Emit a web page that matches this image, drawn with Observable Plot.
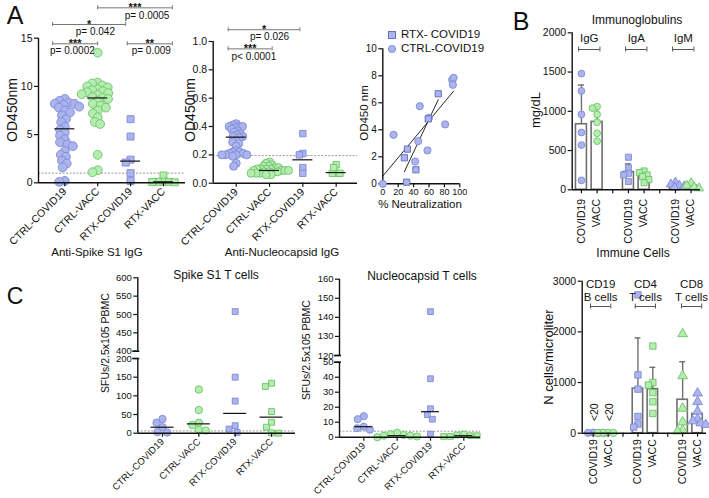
<!DOCTYPE html>
<html><head><meta charset="utf-8">
<script src="https://cdn.jsdelivr.net/npm/d3@7"></script>
<script src="https://cdn.jsdelivr.net/npm/@observablehq/plot@0.6"></script>
<style>
body{margin:0;background:#fff}
#root{position:relative;width:709px;height:498px;overflow:hidden;font-family:"Liberation Sans",Arial,sans-serif;color:#111;background:#fff}
.lbl{position:absolute;white-space:nowrap;line-height:1}
</style></head><body><div id="root"></div>
<script>
// ---------------- DATA ----------------
const groupsA = ["CTRL-COVID19","CTRL-VACC","RTX-COVID19","RTX-VACC"];

// A: Anti-Spike S1 IgG (OD450nm)
const spikeIgG_ctrlCovid = [8.7,8.5,8.3,8.2,8.2,8.1,7.9,7.8,7.5,7.3,7.0,6.6,6.3,5.8,5.5,5.2,4.9,4.5,4.2,4.0,3.8,3.3,2.9,2.7,2.3,2.0,1.6,0.2,0.1];
const spikeIgG_ctrlVacc = [13.5,10.4,10.3,10.1,10.0,9.9,9.7,9.6,9.5,9.4,9.3,9.2,9.1,8.9,8.8,8.7,8.5,8.2,8.0,7.8,7.5,7.2,6.8,6.3,6.1,2.9,1.3,1.1];
const spikeIgG_rtxCovid = [6.6,4.8,2.4,2.1,1.0,0.2];
const spikeIgG_rtxVacc = [0.75,0.12,0.1,0.1,0.08,0.05];
const spikeIgG_median = [5.6,8.8,2.25,0.1];
const spikeIgG_cutoff = 1.0;
const spikeSigStars = ["***","*","***","**"];
const spikeSigP = ["p= 0.0002","p= 0.042","p= 0.0005","p= 0.009"];
const spikeSigFrom = [-0.37,-0.37,1.0,1.9];
const spikeSigTo = [1.0,1.85,3.27,3.27];
const spikeSigLevel = [14.42,16.42,18.15,14.42];
const spikeSigPx = [0.23,0.93,2.5,2.63];

// A: Anti-Nucleocapsid IgG (OD450nm)
const ncIgG_ctrlCovid = [0.42,0.41,0.40,0.40,0.40,0.39,0.38,0.37,0.36,0.35,0.34,0.33,0.33,0.32,0.30,0.29,0.28,0.26,0.23,0.22,0.22,0.21,0.21,0.20,0.20,0.20,0.20,0.19,0.14,0.12];
const ncIgG_ctrlVacc = [0.15,0.14,0.13,0.12,0.12,0.11,0.11,0.10,0.10,0.10,0.10,0.09,0.09,0.09,0.09,0.08,0.08,0.08,0.08,0.07,0.07,0.07,0.06,0.06];
const ncIgG_rtxCovid = [0.35,0.21,0.20,0.11,0.07];
const ncIgG_rtxVacc = [0.13,0.07,0.07,0.07,0.11];
const ncIgG_median = [0.325,0.09,0.165,0.075];
const ncIgG_cutoff = 0.195;
const ncSigStars = ["*","***"];
const ncSigP = ["p= 0.026","p< 0.0001"];
const ncSigFrom = [-0.24,-0.24];
const ncSigTo = [1.91,1.08];
const ncSigLevel = [1.083,0.948];
const ncSigPx = [1.0,0.53];

// A: OD450 vs % neutralization
const neutCtrlX = [0,14,48,46,42,58,60,81,90,92,91];
const neutCtrlY = [0,3.63,5.75,3.16,1.65,2.47,4.89,4.4,7.7,7.85,7.33];
const neutRtxX = [31,32,28,43,59,72];
const neutRtxY = [0.12,2.57,1.93,1.04,4.81,6.67];
const neutLegend = ["RTX- COVID19","CTRL-COVID19"];

// B: Immunoglobulins (mg/dL)
const pairLabels = ["COVID19","VACC","COVID19","VACC","COVID19","VACC"];
const igGroups = ["IgG","IgA","IgM"];
const igG_covid = [1480,1260,960,730,570,120];
const igG_vacc = [1060,1040,960,860,720,620];
const igA_covid = [415,280,210,190,105];
const igA_vacc = [240,220,190,170,130,90];
const igM_covid = [95,70,55,45,30];
const igM_vacc = [85,55,35,20];
const igMean = [835,865,225,175,60,55];
const igSD = [500,185,105,70,25,25];

// Immune cells (N cells/microliter)
const cellGroups = ["CD19\nB cells","CD4\nT cells","CD8\nT cells"];
const cd19_covid = [12,8,5,3];
const cd19_vacc = [10,8,6,4];
const cd4_covid = [2730,1150,870,330,180,120];
const cd4_vacc = [1720,1000,950,800,620,390];
const cd8_covid = [1960,1130,490,220,60,40];
const cd8_vacc = [790,620,430,280,240,200,170];
const cellMean = [8,7,880,870,660,380];
const cellSD = [0,0,1000,430,750,230];
const cellNote = "<20";

// C: Spike S1 T cells (SFUs/2.5x105 PBMC)
const tSpike_ctrlCovid = [38,28,16,3,2];
const tSpike_ctrlVacc = [117,62,28,22,9,7];
const tSpike_rtxCovid = [508,150,86,20,11,2];
const tSpike_rtxVacc = [134,125,58,29,16,1,0];
const tSpike_median = [16,25,53,43];
const tSpike_cutoff = 6;

// C: Nucleocapsid T cells
const tNc_ctrlCovid = [14,12,7,6,5];
const tNc_ctrlVacc = [3,2,1.5,1,1,0.5,0];
const tNc_rtxCovid = [143,39,19,15,12,2];
const tNc_rtxVacc = [2,1.5,1,1,0.5,0.5];
const tNc_median = [7,1,17,1];
const tNc_cutoff = 4;

// ---------------- HELPERS ----------------
const root = document.getElementById("root");
const FONT = '"Liberation Sans", Arial, sans-serif';
const BLUE = {fill:"#abb4ec", stroke:"#7f8ad6"};
const GREEN = {fill:"#b5edb0", stroke:"#6cc468"};
const INK = "#111";
const intFmt = d => String(d);

function addPlot(p, left, top){ p.style.position="absolute"; p.style.left=left+"px"; p.style.top=top+"px"; root.appendChild(p); }
function label(text, x, y, o = {}){
  const d = document.createElement("div"); d.className = "lbl"; d.textContent = text;
  d.style.fontSize = (o.size || 11) + "px"; d.style.fontWeight = o.weight || "normal";
  d.style.left = x + "px"; d.style.top = y + "px";
  d.style.transform = `translate(-50%,-50%) rotate(${o.rotate || 0}deg)`;
  root.appendChild(d); return d;
}
function swarm(pys, diam){
  const order = pys.map((_, i) => i).sort((a, b) => pys[b] - pys[a]);
  const placed = [], xs = [];
  for (const i of order){
    const y = pys[i];
    const near = placed.filter(p => Math.abs(p.y - y) < diam);
    const cands = [0];
    for (const p of near){ const dx = Math.sqrt(diam*diam - (p.y - y)**2); cands.push(p.x + dx, p.x - dx); }
    cands.sort((a, b) => Math.abs(a) - Math.abs(b) || a - b);
    const x = cands.find(c => near.every(p => (p.x - c)**2 + (p.y - y)**2 >= diam*diam - 0.01));
    xs[i] = x; placed.push({x, y});
  }
  return xs;
}
const baseStyle = {fontFamily: FONT, fontSize: "10px", color: INK, background: "none", overflow: "visible"};

function dotPlot(c){
  const fw = c.width - c.ml - c.mr, fh = c.height - c.mt - c.mb;
  const pxX = fw / (c.xdom[1] - c.xdom[0]), pxY = fh / (c.ydom[1] - c.ydom[0]);
  const inY = v => v >= c.ydom[0] - 1e-9 && v <= c.ydom[1] + 1e-9;
  const marks = [];
  if (c.cutoff != null && inY(c.cutoff)) marks.push(Plot.ruleY([c.cutoff], {stroke:"#9a9a9a", strokeWidth:1, strokeDasharray:"2,1.5"}));
  c.series.forEach((s, k) => {
    const vals = s.values.filter(inY);
    const offs = swarm(vals.map(v => v * pxY), c.spacing);
    const data = vals.map((v, j) => ({x: k + offs[j] / pxX, y: v}));
    marks.push(Plot.dot(data, {x:"x", y:"y", symbol: s.symbol, r: s.symbol === "circle" ? c.r : c.r * 0.9, fill: s.color.fill, stroke: s.color.stroke, strokeWidth: 0.9}));
  });
  if (c.medians){
    const md = c.medians.map((m, k) => ({k, m})).filter(d => inY(d.m));
    marks.push(Plot.ruleY(md, {y:"m", x1: d => d.k - c.medHalf / pxX, x2: d => d.k + c.medHalf / pxX, stroke: INK, strokeWidth: 1.2}));
  }
  marks.push(Plot.ruleX([c.xdom[0]], {stroke: INK, strokeWidth: 1.4}));
  marks.push(Plot.axisY({ticks: c.yticks, tickFormat: c.yfmt || intFmt, tickSize: 4, tickPadding: 2, label: null, strokeWidth: 1.2}));
  if (c.breakAt){
    const v = c.breakAt === "bottom" ? c.ydom[0] : c.ydom[1];
    marks.push(Plot.ruleY([v], {x1: c.xdom[0] - 5 / pxX, x2: c.xdom[0] + 2 / pxX, stroke: INK, strokeWidth: 1.6}));
  }
  if (c.showX){
    marks.push(Plot.ruleY([c.ydom[0]], {stroke: INK, strokeWidth: 1.4}));
    marks.push(Plot.axisX({ticks: c.cats.map((_, i) => i), tickFormat: i => c.cats[i], tickRotate: -45, tickSize: 4, tickPadding: 3, label: null, strokeWidth: 1.2}));
  }
  if (c.sig){
    const s = c.sig, idx = s.stars.map((_, i) => i), cap = 2 / pxY;
    marks.push(Plot.ruleY(idx, {y: i => s.level[i], x1: i => s.from[i], x2: i => s.to[i], stroke:"#777", strokeWidth: 1}));
    marks.push(Plot.ruleX(idx.flatMap(i => [[s.from[i], s.level[i]], [s.to[i], s.level[i]]]), {x: d => d[0], y1: d => d[1] - cap, y2: d => d[1] + cap, stroke:"#777", strokeWidth: 1}));
    marks.push(Plot.text(idx, {x: i => (s.from[i] + s.to[i]) / 2, y: i => s.level[i], text: i => s.stars[i], lineAnchor:"bottom", dy: 3, fontWeight:"bold", fontSize: 11}));
    marks.push(Plot.text(idx, {x: i => s.px[i], y: i => s.level[i], text: i => s.p[i], dy: 7.5, fontSize: 10}));
  }
  return Plot.plot({
    width: c.width, height: c.height, marginLeft: c.ml, marginRight: c.mr, marginTop: c.mt, marginBottom: c.mb,
    x: c.showX ? {domain: c.xdom} : {domain: c.xdom, axis: null},
    y: {domain: c.ydom},
    style: {...baseStyle, fontSize: (c.fs || 10) + "px"},
    marks
  });
}

function barPlot(c){
  const pos = [0,1,3,4,6,7];
  const fw = c.width - c.ml - c.mr, fh = c.height - c.mt - c.mb;
  const pxX = fw / (c.xdom[1] - c.xdom[0]), pxY = fh / (c.ydom[1] - c.ydom[0]);
  const bars = pos.map((p, i) => ({p, m: c.mean[i], sd: c.sd[i]}));
  const marks = [];
  marks.push(Plot.rect(bars, {x1: d => d.p - 0.35, x2: d => d.p + 0.35, y1: () => 0, y2: "m", fill: "white", stroke: "#6f6f6f", strokeWidth: 1.6}));
  const eb = bars.filter(d => d.sd > 0);
  marks.push(Plot.ruleX(eb, {x: "p", y1: "m", y2: d => d.m + d.sd, stroke: "#6f6f6f", strokeWidth: 1.4}));
  marks.push(Plot.ruleY(eb, {y: d => d.m + d.sd, x1: d => d.p - 0.2, x2: d => d.p + 0.2, stroke: "#6f6f6f", strokeWidth: 1.4}));
  c.series.forEach((s, i) => {
    const offs = swarm(s.values.map(v => v * pxY), c.spacing);
    const data = s.values.map((v, j) => ({x: pos[i] + offs[j] / pxX, y: v}));
    marks.push(Plot.dot(data, {x:"x", y:"y", symbol: s.symbol, r: c.r, fill: s.color.fill, stroke: s.color.stroke, strokeWidth: 0.9}));
  });
  marks.push(Plot.ruleX([c.xdom[0]], {stroke: INK, strokeWidth: 1.4}));
  marks.push(Plot.ruleY([c.ydom[0]], {stroke: INK, strokeWidth: 1.4}));
  marks.push(Plot.axisY({ticks: c.yticks, tickFormat: intFmt, tickSize: 4, tickPadding: 2, label: null, strokeWidth: 1.2}));
  marks.push(Plot.axisX({ticks: pos, tickFormat: (d) => c.labels[pos.indexOf(d)], tickRotate: -90, tickSize: 4, tickPadding: c.xpad, label: null, fontSize: 10.5, strokeWidth: 1.2}));
  marks.push(Plot.axisX({ticks: [2,5], tickFormat: () => "", tickSize: 4, label: null, strokeWidth: 1.2}));
  const gc = c.groups.map((g, i) => (pos[2*i] + pos[2*i+1]) / 2 + (c.gshift ? c.gshift[i] : 0));
  const top = c.ydom[1];
  marks.push(Plot.text(c.groups, {x: (d, i) => gc[i], y: () => top - c.gy / pxY, text: d => d, fontSize: 11.5, lineHeight: 1.07}));
  marks.push(Plot.ruleY(c.groups, {y: () => top - c.by / pxY, x1: (d, i) => gc[i] - 0.68, x2: (d, i) => gc[i] + 0.68, stroke: "#555", strokeWidth: 1}));
  marks.push(Plot.ruleX(c.groups.flatMap((d, i) => [gc[i] - 0.68, gc[i] + 0.68]), {x: d => d, y1: () => top - (c.by - 2.5) / pxY, y2: () => top - (c.by + 2.5) / pxY, stroke: "#555", strokeWidth: 1}));
  if (c.extra) marks.push(...c.extra(pxX, pxY));
  return Plot.plot({
    width: c.width, height: c.height, marginLeft: c.ml, marginRight: c.mr, marginTop: c.mt, marginBottom: c.mb,
    x: {domain: c.xdom}, y: {domain: c.ydom},
    style: {...baseStyle, fontSize: "10.5px"},
    marks
  });
}

// ---------------- PANEL A ----------------
label("A", 15, 15, {size: 25});
addPlot(dotPlot({
  width:190, height:250, ml:38, mr:5, mt:37.7, mb:67.7,
  xdom:[-0.8,3.67], ydom:[0,15], yticks:[0,5,10,15], fs: 10.5,
  cats: groupsA, showX: true, r: 4.4, spacing: 5.6, medHalf: 10,
  series: [
    {values: spikeIgG_ctrlCovid, symbol:"circle", color: BLUE},
    {values: spikeIgG_ctrlVacc, symbol:"circle", color: GREEN},
    {values: spikeIgG_rtxCovid, symbol:"square", color: BLUE},
    {values: spikeIgG_rtxVacc, symbol:"square", color: GREEN}
  ],
  medians: spikeIgG_median, cutoff: spikeIgG_cutoff,
  sig: {stars: spikeSigStars, p: spikeSigP, from: spikeSigFrom, to: spikeSigTo, level: spikeSigLevel, px: spikeSigPx}
}), 0, 0);
label("OD450nm", 12, 110, {size: 14, rotate: -90});
label("Anti-Spike S1 IgG", 97, 253, {size: 11.5});

addPlot(dotPlot({
  width:190, height:250, ml:37.7, mr:8, mt:41, mb:67.3,
  xdom:[-0.69,3.64], ydom:[0,1], yticks:[0,0.2,0.4,0.6,0.8,1.0], yfmt: d3.format(".1f"), fs: 10.5,
  cats: groupsA, showX: true, r: 4, spacing: 3.8, medHalf: 10,
  series: [
    {values: ncIgG_ctrlCovid, symbol:"circle", color: BLUE},
    {values: ncIgG_ctrlVacc, symbol:"circle", color: GREEN},
    {values: ncIgG_rtxCovid, symbol:"square", color: BLUE},
    {values: ncIgG_rtxVacc, symbol:"square", color: GREEN}
  ],
  medians: ncIgG_median, cutoff: ncIgG_cutoff,
  sig: {stars: ncSigStars, p: ncSigP, from: ncSigFrom, to: ncSigTo, level: ncSigLevel, px: ncSigPx}
}), 175, 0);
label("OD450nm", 190, 110, {size: 14, rotate: -90});
label("Anti-Nucleocapsid IgG", 282, 253, {size: 11.5});

// scatter
const ctrlPts = neutCtrlX.map((x, i) => ({x, y: neutCtrlY[i]}));
const rtxPts = neutRtxX.map((x, i) => ({x, y: neutRtxY[i]}));
addPlot(Plot.plot({
  width:180, height:200, marginLeft:32.3, marginRight:70.7, marginTop:28.3, marginBottom:36.7,
  x: {domain:[0,100]}, y: {domain:[0,10]},
  style: {...baseStyle, fontSize: "9px"},
  marks: [
    Plot.ruleX([0], {stroke: INK, strokeWidth: 1.4}),
    Plot.ruleY([0], {stroke: INK, strokeWidth: 1.4}),
    Plot.axisX({ticks:[0,20,40,60,80,100], tickSize:4, tickPadding:1, label:null, strokeWidth:1.2}),
    Plot.axisY({ticks:[0,2,4,6,8,10], tickSize:4, tickPadding:2, label:null, strokeWidth:1.2, fontSize: 10}),
    Plot.linearRegressionY(ctrlPts, {x:"x", y:"y", ci:0, stroke: INK, strokeWidth: 0.9}),
    Plot.linearRegressionY(rtxPts, {x:"x", y:"y", ci:0, stroke: INK, strokeWidth: 0.9}),
    Plot.dot(ctrlPts, {x:"x", y:"y", r:3.6, fill: BLUE.fill, stroke: BLUE.stroke, strokeWidth: 0.9}),
    Plot.dot(rtxPts, {x:"x", y:"y", symbol:"square", r:3.5, fill: BLUE.fill, stroke: "#5d69b8", strokeWidth: 0.9})
  ]
}), 350, 20);
label("OD450 nm", 365, 113, {size: 11.5, rotate: -90});
label("% Neutralization", 420, 205, {size: 11.5});
// legend
(function(){
  const syms = ['<rect x="1.5" y="1.5" width="7" height="7" fill="'+BLUE.fill+'" stroke="#5d69b8" stroke-width="0.9"/>',
                '<circle cx="5" cy="5" r="3.6" fill="'+BLUE.fill+'" stroke="'+BLUE.stroke+'" stroke-width="0.9"/>'];
  neutLegend.forEach((t, i) => {
    const d = document.createElement("div");
    d.className = "lbl"; d.style.left = "387px"; d.style.top = (29 + i * 14.3) + "px"; d.style.fontSize = "11.5px";
    d.style.display = "flex"; d.style.alignItems = "center";
    d.innerHTML = '<svg width="10" height="10" style="margin-right:4px">' + syms[i] + '</svg>';
    d.appendChild(document.createTextNode(t));
    root.appendChild(d);
  });
})();

// ---------------- PANEL B ----------------
label("B", 521, 21, {size: 25});
addPlot(barPlot({
  width:174, height:250, ml:36.7, mr:9, mt:32.3, mb:60.7,
  xdom:[-0.59,7.6], ydom:[0,2000], yticks:[0,500,1000,1500,2000], xpad: 5,
  labels: pairLabels, groups: igGroups, gy: 5.4, by: 16.7, r: 3.4, spacing: 5,
  mean: igMean, sd: igSD,
  series: [
    {values: igG_covid, symbol:"circle", color: BLUE},
    {values: igG_vacc, symbol:"circle", color: GREEN},
    {values: igA_covid, symbol:"square", color: BLUE},
    {values: igA_vacc, symbol:"square", color: GREEN},
    {values: igM_covid, symbol:"triangle", color: BLUE},
    {values: igM_vacc, symbol:"triangle", color: GREEN}
  ]
}), 535, 0);
label("Immunoglobulins", 637, 20, {size: 12});
label("mg/dL", 535, 110, {size: 13, rotate: -90});

addPlot(barPlot({
  width:169, height:248, ml:41.7, mr:3, mt:30.7, mb:65.3,
  xdom:[-0.74,7.6], ydom:[0,3000], yticks:[0,1000,2000,3000], xpad: 2,
  labels: pairLabels, groups: cellGroups, gy: 9.3, by: 25.3, r: 3.6, spacing: 5.2,
  gshift: [0,0,0.1],
  mean: cellMean, sd: cellSD,
  series: [
    {values: cd19_covid, symbol:"circle", color: BLUE},
    {values: cd19_vacc, symbol:"circle", color: GREEN},
    {values: cd4_covid, symbol:"square", color: BLUE},
    {values: cd4_vacc, symbol:"square", color: GREEN},
    {values: cd8_covid, symbol:"triangle", color: GREEN},
    {values: cd8_vacc, symbol:"triangle", color: BLUE}
  ],
  extra: (pxX, pxY) => [Plot.text([0,1], {x: d => d + 0.1, y: () => 21 / pxY, text: () => cellNote, rotate: -90, fontSize: 10.5})]
}), 540, 250);
label("Immune Cells", 633, 253, {size: 12});
label("N cells/microliter", 548, 357, {size: 13, rotate: -90});

// ---------------- PANEL C ----------------
label("C", 15, 296, {size: 23});
const spikeSeries = [
  {values: tSpike_ctrlCovid, symbol:"circle", color: BLUE},
  {values: tSpike_ctrlVacc, symbol:"circle", color: GREEN},
  {values: tSpike_rtxCovid, symbol:"square", color: BLUE},
  {values: tSpike_rtxVacc, symbol:"square", color: GREEN}
];
const spikeBase = {width:200, ml:37.3, mr:5, xdom:[-0.68,3.66], cats: groupsA, r: 3.7, spacing: 7, medHalf: 11.5, series: spikeSeries, medians: tSpike_median, cutoff: tSpike_cutoff, fs: 9.5};
addPlot(dotPlot({...spikeBase, height:85, mt:7.3, mb:4.3, ydom:[400,600], yticks:[400,450,500,550,600], showX:false, breakAt:"bottom"}), 100, 270);
addPlot(dotPlot({...spikeBase, height:143, mt:3, mb:65.3, ydom:[0,200], yticks:[0,50,100,150,200], showX:true, breakAt:"top"}), 100, 355);
label("Spike S1 T cells", 216, 275, {size: 12});
label("SFUs/2.5x105 PBMC", 105, 343, {size: 10.5, rotate: -90});

const ncSeries = [
  {values: tNc_ctrlCovid, symbol:"circle", color: BLUE},
  {values: tNc_ctrlVacc, symbol:"circle", color: GREEN},
  {values: tNc_rtxCovid, symbol:"square", color: BLUE},
  {values: tNc_rtxVacc, symbol:"square", color: GREEN}
];
const ncBase = {width:185, ml:39, mr:5, xdom:[-0.73,3.5], cats: groupsA, r: 3.6, spacing: 6.8, medHalf: 9, series: ncSeries, medians: tNc_median, cutoff: tNc_cutoff, fs: 9.5};
addPlot(dotPlot({...ncBase, height:88, mt:8.7, mb:3, ydom:[120,160], yticks:[120,130,140,150,160], showX:false, breakAt:"bottom"}), 300, 270);
addPlot(dotPlot({...ncBase, height:140, mt:3.7, mb:61.3, ydom:[0,50], yticks:[0,10,20,30,40,50], showX:true, breakAt:"top"}), 300, 358);
label("Nucleocapsid T cells", 422, 276, {size: 12});
label("SFUs/2.5x105 PBMC", 306, 350, {size: 10.5, rotate: -90});
</script></body></html>
